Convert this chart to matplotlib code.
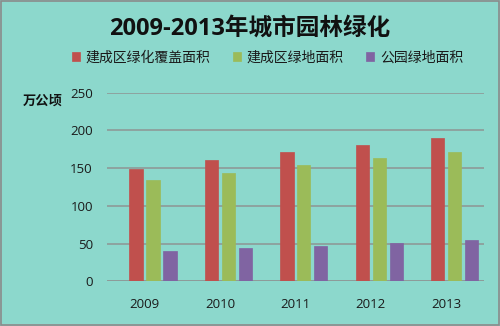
import matplotlib
matplotlib.use("Agg")
import matplotlib.pyplot as plt
import numpy as np

plt.rcParams['font.family'] = ['Open Sans', 'Noto Sans CJK SC', 'DejaVu Sans']

years = ["2009", "2010", "2011", "2012", "2013"]
series_names = ["建成区绿化覆盖面积", "建成区绿地面积", "公园绿地面积"]
coverage = [149, 161, 171, 181, 190]
green_land = [134, 144, 154, 163, 171]
park_land = [40, 44, 47, 51, 55]
yticks = [0, 50, 100, 150, 200, 250]

colors = ["#C0504D", "#9BBB59", "#8064A2"]
bg = "#8CD8CC"

fig = plt.figure(figsize=(5, 3.26), dpi=100, facecolor=bg)
ax = fig.add_axes([0.2134, 0.137, 0.7546, 0.5786], facecolor=bg)

# four slots per year; the first slot stays empty
x = np.arange(len(years))
step = 0.225
width = 0.176
handles = []
for i, (vals, c, name) in enumerate(zip([coverage, green_land, park_land], colors, series_names), start=1):
    off = (i - 1.5) * step
    h = ax.bar(x + off, vals, width, color=c, label=name, zorder=3,
               edgecolor=c, linewidth=0.5)
    handles.append(h)

ax.set_xlim(-0.5, len(years) - 0.5)
ax.set_ylim(0, 250)
ax.set_yticks(yticks)
ax.set_xticks(x)
ax.set_xticklabels(years)
ax.grid(axis='y', color='#8E9A98', linewidth=1.2, zorder=1)
for s in ax.spines.values():
    s.set_visible(False)
ax.axhline(0, color='#8E9A98', linewidth=1.2, zorder=2)
ax.tick_params(axis='both', length=0, labelsize=9.5, colors='#1a1a1a')
ax.tick_params(axis='y', pad=10)
ax.tick_params(axis='x', pad=12)

fig.text(0.5, 0.913, "2009-2013年城市园林绿化", ha='center', va='center',
         fontsize=17, fontweight='bold', color='#111111',
         family=['Open Sans', 'Noto Sans CJK SC'])
fig.text(0.086, 0.69, "万公顷", ha='center', va='center', fontsize=9.5,
         fontweight='bold', color='#111111', family=['Noto Sans CJK SC'])

leg = fig.legend(handles=handles, labels=series_names, loc='center',
                 bbox_to_anchor=(0.535, 0.822), ncol=3, frameon=False,
                 fontsize=10, handlelength=0.6, handleheight=0.6,
                 handletextpad=0.4, columnspacing=1.6)
for t in leg.get_texts():
    t.set_color('#1a1a1a')

# figure border
fig.patches.append(plt.Rectangle((0.002, 0.003), 0.996, 0.994, transform=fig.transFigure,
                                 fill=False, edgecolor='#8a8a8a', linewidth=1.2))

fig.savefig("out.png", dpi=100, facecolor=bg)
